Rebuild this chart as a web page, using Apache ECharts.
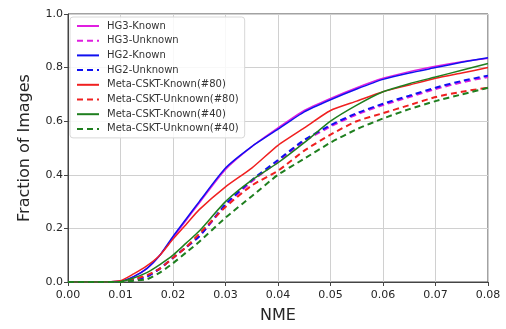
<!DOCTYPE html>
<html>
<head>
<meta charset="utf-8">
<script src="https://cdn.jsdelivr.net/npm/echarts@6/dist/echarts.min.js"></script>
<style>
  html, body { margin: 0; padding: 0; background: #fff; }
  #chart { width: 506px; height: 329px; }
</style>
</head>
<body>
<div id="chart"></div>
<script>
// NME thresholds (x axis)
const nme = [0, 0.005, 0.01, 0.0125, 0.015, 0.0175, 0.02, 0.0225, 0.025, 0.03, 0.035, 0.04, 0.045, 0.05, 0.055, 0.06, 0.065, 0.07, 0.075, 0.08];

// fraction of images per curve
const hg3Known     = [0, 0, 0.003, 0.02, 0.05, 0.1, 0.165, 0.23, 0.295, 0.42, 0.505, 0.575, 0.64, 0.685, 0.725, 0.76, 0.785, 0.805, 0.822, 0.835];
const hg3Unknown   = [0, 0, 0, 0.008, 0.02, 0.05, 0.09, 0.13, 0.17, 0.285, 0.375, 0.45, 0.525, 0.58, 0.625, 0.66, 0.69, 0.72, 0.745, 0.765];
const hg2Known     = [0, 0, 0.003, 0.02, 0.05, 0.1, 0.17, 0.235, 0.30, 0.425, 0.505, 0.57, 0.635, 0.68, 0.72, 0.756, 0.78, 0.80, 0.82, 0.837];
const hg2Unknown   = [0, 0, 0, 0.008, 0.02, 0.05, 0.09, 0.13, 0.17, 0.29, 0.38, 0.455, 0.53, 0.585, 0.63, 0.665, 0.695, 0.725, 0.75, 0.77];
const cskt80Known  = [0, 0, 0.005, 0.03, 0.06, 0.1, 0.16, 0.215, 0.27, 0.355, 0.425, 0.51, 0.575, 0.64, 0.675, 0.71, 0.735, 0.76, 0.78, 0.80];
const cskt80Unknown = [0, 0, 0, 0.01, 0.025, 0.05, 0.09, 0.13, 0.18, 0.28, 0.36, 0.415, 0.49, 0.55, 0.60, 0.63, 0.66, 0.69, 0.71, 0.725];
const cskt40Known  = [0, 0, 0.002, 0.015, 0.035, 0.065, 0.10, 0.145, 0.19, 0.30, 0.38, 0.445, 0.52, 0.60, 0.66, 0.71, 0.74, 0.765, 0.79, 0.815];
const cskt40Unknown = [0, 0, 0, 0.005, 0.01, 0.035, 0.07, 0.11, 0.15, 0.24, 0.32, 0.40, 0.46, 0.52, 0.57, 0.61, 0.645, 0.675, 0.70, 0.725];

const xTicks = [0, 0.01, 0.02, 0.03, 0.04, 0.05, 0.06, 0.07, 0.08];
const yTicks = [0, 0.2, 0.4, 0.6, 0.8, 1.0];

const curves = [
    { name: 'HG3-Known', values: hg3Known, color: '#e01ee0', dashed: false },
    { name: 'HG3-Unknown', values: hg3Unknown, color: '#e01ee0', dashed: true },
    { name: 'HG2-Known', values: hg2Known, color: '#1010f0', dashed: false },
    { name: 'HG2-Unknown', values: hg2Unknown, color: '#1010f0', dashed: true },
    { name: 'Meta-CSKT-Known(#80)', values: cskt80Known, color: '#f02020', dashed: false },
    { name: 'Meta-CSKT-Unknown(#80)', values: cskt80Unknown, color: '#f02020', dashed: true },
    { name: 'Meta-CSKT-Known(#40)', values: cskt40Known, color: '#1f7f1f', dashed: false },
    { name: 'Meta-CSKT-Unknown(#40)', values: cskt40Unknown, color: '#1f7f1f', dashed: true },
];

const font = 'DejaVu Sans';
const textColor = '#262626';

const chart = echarts.init(document.getElementById('chart'), null, { renderer: 'canvas' });

chart.setOption({
    backgroundColor: '#fff',
    animation: false,
    textStyle: { fontFamily: font },
    grid: {
        left: 68, right: 18, top: 14, bottom: 34,
        show: true, borderColor: '#444', borderWidth: 1,
    },
    legend: {
        orient: 'vertical',
        left: 70, top: 17,
        itemWidth: 22, itemHeight: 10, itemGap: 4.7,
        padding: [4, 6, 4, 6],
        backgroundColor: 'rgba(255,255,255,0.85)',
        borderColor: '#d8d8d8', borderWidth: 1, borderRadius: 3,
        // hide the marker dot, keep only the line sample
        itemStyle: { opacity: 0 },
        textStyle: { fontFamily: font, fontSize: 10, color: '#333', padding: [0, 0, 0, 3] },
        data: curves.map(c => c.name),
    },
    xAxis: {
        type: 'value',
        min: xTicks[0], max: xTicks[xTicks.length - 1], interval: 0.01,
        name: 'NME', nameLocation: 'middle', nameGap: 26,
        nameTextStyle: { fontFamily: font, fontSize: 16, color: textColor },
        axisLine: { show: true, lineStyle: { color: '#444', width: 1 } },
        axisTick: { show: true, inside: false, length: 4, lineStyle: { color: '#444' } },
        axisLabel: {
            fontFamily: font, fontSize: 11, color: textColor, margin: 8,
            formatter: v => v.toFixed(2),
        },
        splitLine: { show: true, lineStyle: { color: '#d0d0d0', width: 1 } },
    },
    yAxis: {
        type: 'value',
        min: yTicks[0], max: yTicks[yTicks.length - 1], interval: 0.2,
        name: 'Fraction of Images', nameLocation: 'middle', nameGap: 35,
        nameTextStyle: { fontFamily: font, fontSize: 16, color: textColor },
        axisLine: { show: true, lineStyle: { color: '#444', width: 1 } },
        axisTick: { show: true, inside: false, length: 4, lineStyle: { color: '#444' } },
        axisLabel: {
            fontFamily: font, fontSize: 11, color: textColor, margin: 5,
            formatter: v => v.toFixed(1),
        },
        splitLine: { show: true, lineStyle: { color: '#d0d0d0', width: 1 } },
    },
    series: curves.map(c => ({
        name: c.name,
        type: 'line',
        data: nme.map((x, i) => [x, c.values[i]]),
        showSymbol: false,
        symbol: 'none',
        smooth: 0.2,
        itemStyle: { color: c.color },
        lineStyle: {
            color: c.color,
            width: c.dashed ? 2 : 1.5,
            type: c.dashed ? [6, 4] : 'solid',
        },
    })),
});
</script>
</body>
</html>
